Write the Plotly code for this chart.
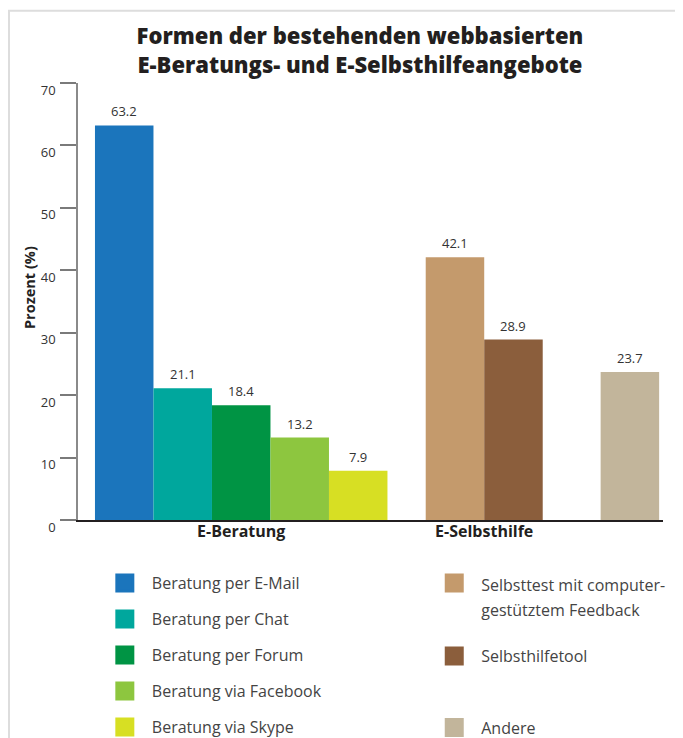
import plotly.graph_objects as go

# ---------------- data ----------------
series_names = [
    "Beratung per E-Mail",
    "Beratung per Chat",
    "Beratung per Forum",
    "Beratung via Facebook",
    "Beratung via Skype",
    "Selbsttest mit computer-<br>gestütztem Feedback",
    "Selbsthilfetool",
    "Andere",
]
series_values = [63.2, 21.1, 18.4, 13.2, 7.9, 42.1, 28.9, 23.7]
series_groups = ["E-Beratung"] * 5 + ["E-Selbsthilfe"] * 2 + ["Andere"]
group_labels = {"E-Beratung": "E-Beratung", "E-Selbsthilfe": "E-Selbsthilfe", "Andere": ""}
y_ticks = [0, 10, 20, 30, 40, 50, 60, 70]

title_text = "Formen der bestehenden webbasierten<br>E-Beratungs- und E-Selbsthilfeangebote"
y_title = "Prozent (%)"

# ---------------- style ----------------
colors = ["#1b75bc", "#00a79d", "#009444", "#8dc63f", "#d7df23",
          "#c49a6c", "#8b5e3c", "#c2b59b"]
group_gap = {"E-Selbsthilfe": 0.654, "Andere": 0.99}
legend_of = ["legend", "legend", "legend", "legend", "legend",
             "legend2", "legend3", "legend3"]
FONT = "Open Sans"
LEG_SIZE = 16

# bar slot positions computed from group structure
x_pos = []
cursor = 0.0
prev = None
for g in series_groups:
    if prev is not None and g != prev:
        cursor += group_gap[g]
    x_pos.append(cursor + 0.5)
    cursor += 1.0
    prev = g

group_centers, group_text = [], []
for g in dict.fromkeys(series_groups):
    xs = [x for x, gg in zip(x_pos, series_groups) if gg == g]
    if group_labels[g]:
        group_centers.append(sum(xs) / len(xs))
        group_text.append(group_labels[g])

fig = go.Figure()
for i, (name, val, col) in enumerate(zip(series_names, series_values, colors)):
    fig.add_trace(go.Bar(
        x=[x_pos[i]], y=[val], width=1.0, marker=dict(color=col, line=dict(width=0)),
        showlegend=False, hoverinfo="y", name=name.replace("<br>", ""),
    ))
# legend entries
for i, (name, col) in enumerate(zip(series_names, colors)):
    label = name
    if legend_of[i] == "legend2":
        label = f'<span style="font-size:{LEG_SIZE}px">' + name.replace(
            "<br>", f'</span><br><span style="font-size:{LEG_SIZE}px">') + "</span>"
    fig.add_trace(go.Scatter(
        x=[None], y=[None], mode="markers", name=label,
        marker=dict(symbol="square", size=16, color=col, line=dict(color=col, width=3)),
        legend=legend_of[i], legendgroup=f"g{i}", hoverinfo="skip",
    ))

# value labels
for xv, val in zip(x_pos, series_values):
    fig.add_annotation(x=xv, y=val, text=f"{val:.1f}", showarrow=False,
                       yanchor="middle", yshift=14,
                       font=dict(family=FONT, size=13, color="#333333"))

# y axis title
fig.add_annotation(xref="paper", yref="paper", x=-0.082, y=0.531, text=f"<b>{y_title}</b>",
                   textangle=-90, showarrow=False, xanchor="center", yanchor="middle",
                   font=dict(family=FONT, size=14.5, color="#222222"))

# outer frame
fig.add_shape(type="rect", xref="paper", yref="paper", x0=-0.118, x1=1.2, y0=-0.6, y1=1.1655,
              line=dict(color="#dddddd", width=2), layer="below")

leg_common = dict(bgcolor="rgba(0,0,0,0)",
                  borderwidth=0, itemwidth=44, traceorder="grouped", valign="top",
                  xanchor="left", yanchor="top", itemclick=False, itemdoubleclick=False)
leg_font = dict(family=FONT, size=LEG_SIZE, color="#444444")

fig.update_layout(
    width=683, height=738,
    margin=dict(l=70, r=27.7, t=74.5, b=225.5, autoexpand=False),
    paper_bgcolor="white", plot_bgcolor="white",
    barmode="overlay",
    title=dict(text=title_text, x=0.482, xref="paper", xanchor="center",
               y=1 - 36.3 / 738, yref="container", yanchor="top",
               font=dict(family=FONT, size=22, weight=800, color="#231f20")),
    xaxis=dict(range=[-0.29, 9.71], tickvals=group_centers, ticktext=[f"<b>{t}</b>" for t in group_text],
               showgrid=False, zeroline=False, showline=True, linecolor="#231f20", linewidth=1.5,
               ticks="", ticklabelstandoff=-4,
               tickfont=dict(family=FONT, size=16, weight=800, color="#231f20"), fixedrange=True),
    yaxis=dict(range=[0, 70], tickvals=y_ticks, showgrid=False, zeroline=False,
               showline=True, linecolor="#8a8a8a", linewidth=1.5,
               ticks="outside", ticklen=16, tickwidth=1.5, tickcolor="#7a7a7a",
               ticklabelshift=7, ticklabelstandoff=2,
               tickfont=dict(family=FONT, size=13, color="#333333"), fixedrange=True),
    legend=dict(x=0.0339, y=-0.1053, tracegroupgap=12.2, font=leg_font, **leg_common),
    legend2=dict(x=0.597, y=-0.0996, tracegroupgap=10,
                 font=dict(family=FONT, size=19.8, color="#444444"), **leg_common),
    legend3=dict(x=0.597, y=-0.2728, tracegroupgap=47.7, font=leg_font, **leg_common),
)

fig.write_html("out.html")
